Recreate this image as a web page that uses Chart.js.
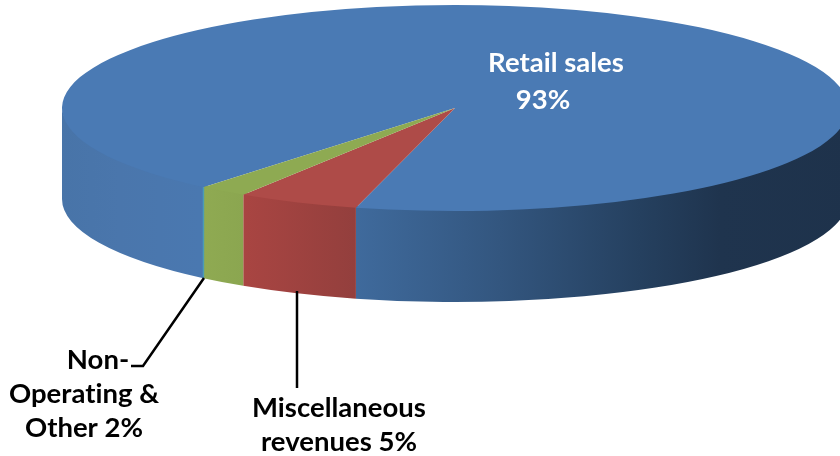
<!DOCTYPE html>
<html>
<head>
<meta charset="utf-8">
<style>
  html, body { margin: 0; padding: 0; background: #fff; overflow: hidden; }
  canvas { display: block; }
</style>
</head>
<body>
<canvas id="myChart" width="840" height="456"></canvas>
<script src="https://cdn.jsdelivr.net/npm/chart.js@4"></script>
<script>
const categories = ['Retail sales', 'Miscellaneous revenues', 'Non-Operating & Other'];
const shares = [93, 5, 2];
const topColors = ['#4a7ab4', '#ae4b48', '#8eaa52'];

// side wall shading, left to right across the pie [x, colour]
const wallStops = [
  [[62, '#4874a8'], [120, '#4a76ac'], [200, '#4a78b0'], [357, '#3f6a9c'], [500, '#33567f'], [640, '#25405f'], [720, '#1f344e'], [850, '#1e324b']],
  [[243, '#a94542'], [357, '#933f3d']],
  [[203, '#8faa52'], [243, '#8ba650']]
];

// where the flat pie sits in the picture
const pie = { x: 455, y: 108, rx: 393, ry: 103, depth: 91 };

const labelLines = [
  { text: 'Retail sales', x: 556, y: 72, color: '#ffffff' },
  { text: '93%', x: 543, y: 109, color: '#ffffff' },
  { text: 'Non-', x: 98, y: 369, color: '#000000' },
  { text: 'Operating &', x: 84, y: 403, color: '#000000' },
  { text: 'Other 2%', x: 84, y: 437, color: '#000000' },
  { text: 'Miscellaneous', x: 339, y: 417, color: '#000000' },
  { text: 'revenues 5%', x: 339, y: 451, color: '#000000' }
];
const leaders = [
  [[204, 278], [143, 366], [131, 366]],
  [[297, 291], [297, 388]]
];

function wallPiece(ctx, from, to, stops) {
  ctx.beginPath();
  // upper edge tucked under the top face so no seam shows
  ctx.ellipse(pie.x, pie.y - 2, pie.rx, pie.ry, 0, from, to);
  ctx.ellipse(pie.x, pie.y + pie.depth, pie.rx, pie.ry, 0, to, from, true);
  ctx.closePath();
  const grad = ctx.createLinearGradient(stops[0][0], 0, stops[stops.length - 1][0], 0);
  const span = stops[stops.length - 1][0] - stops[0][0];
  stops.forEach(s => grad.addColorStop((s[0] - stops[0][0]) / span, s[1]));
  ctx.fillStyle = grad;
  ctx.fill();
}

const tiltPlugin = {
  id: 'tilt',
  beforeDatasetsDraw(chart) {
    const ctx = chart.ctx;
    const arcs = chart.getDatasetMeta(0).data;
    ctx.save();
    // only the front half of each slice shows a wall
    arcs.forEach((arc, i) => {
      const p = arc.getProps(['startAngle', 'endAngle']);
      [[0, Math.PI], [2 * Math.PI, 3 * Math.PI]].forEach(win => {
        const a = Math.max(p.startAngle, win[0]);
        const b = Math.min(p.endAngle, win[1]);
        if (b > a) wallPiece(ctx, a, b, wallStops[i]);
      });
    });
    // thin light edge where the green slice meets the blue wall
    const edge = arcs[2].getProps(['endAngle']).endAngle;
    const ex = pie.x + pie.rx * Math.cos(edge);
    const ey = pie.y + pie.ry * Math.sin(edge);
    ctx.strokeStyle = '#4b9cb4';
    ctx.lineWidth = 1.5;
    ctx.beginPath();
    ctx.moveTo(ex, ey);
    ctx.lineTo(ex, ey + pie.depth);
    ctx.stroke();

    const c = arcs[0].getProps(['x', 'y']);
    const k = pie.ry / pie.rx;
    ctx.translate(pie.x, pie.y);
    ctx.scale(1, k);
    ctx.translate(-c.x, -c.y);
  },
  afterDatasetsDraw(chart) {
    chart.ctx.restore();
  },
  afterDraw(chart) {
    const ctx = chart.ctx;
    ctx.save();
    ctx.strokeStyle = '#000';
    ctx.lineWidth = 2.5;
    leaders.forEach(pts => {
      ctx.beginPath();
      pts.forEach((pt, i) => i ? ctx.lineTo(pt[0], pt[1]) : ctx.moveTo(pt[0], pt[1]));
      ctx.stroke();
    });
    ctx.font = 'bold 27.5px Lato';
    ctx.letterSpacing = '0.01px'; // keeps the "ti" ligature off
    ctx.textAlign = 'center';
    ctx.textBaseline = 'alphabetic';
    labelLines.forEach(l => {
      ctx.fillStyle = l.color;
      ctx.fillText(l.text, l.x, l.y);
    });
    ctx.restore();
  }
};

const myChart = new Chart(document.getElementById('myChart'), {
  type: 'pie',
  data: {
    labels: categories,
    datasets: [{
      data: shares,
      backgroundColor: topColors,
      borderWidth: 0,
      clip: false
    }]
  },
  options: {
    responsive: false,
    animation: false,
    events: [],
    rotation: 219.8,
    radius: pie.rx,
    plugins: { legend: { display: false }, tooltip: { enabled: false } }
  },
  plugins: [tiltPlugin]
});
</script>
</body>
</html>
